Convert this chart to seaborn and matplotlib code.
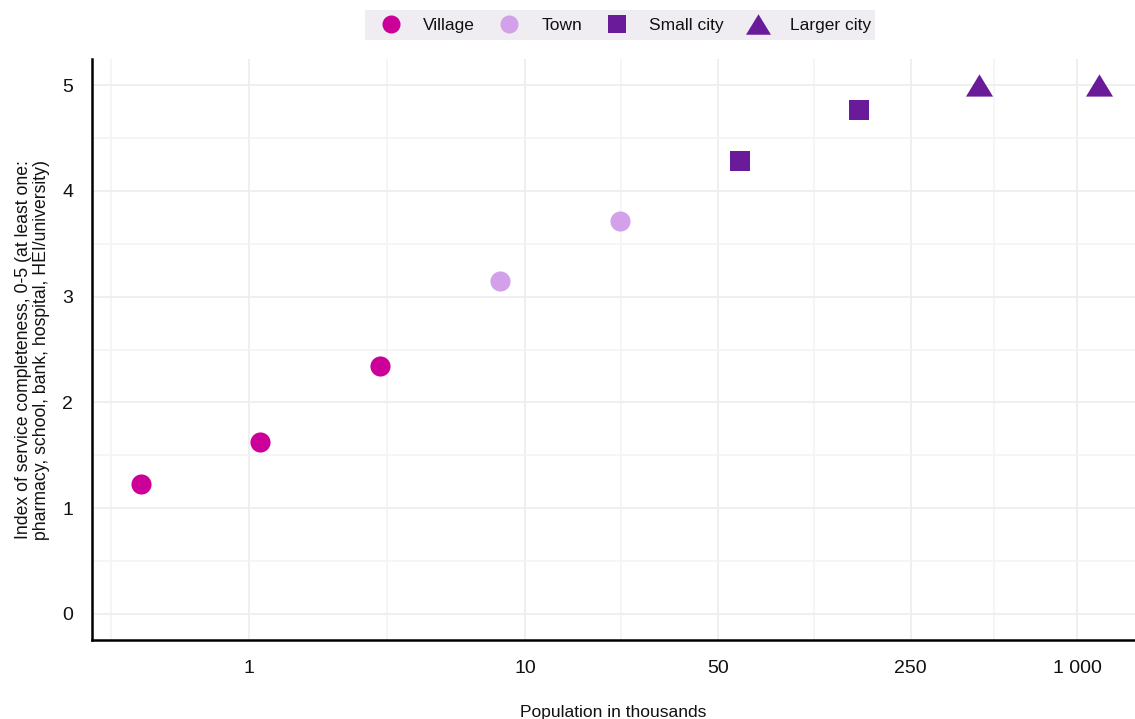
import numpy as np
import pandas as pd
import matplotlib
matplotlib.use("Agg")
import matplotlib.pyplot as plt
from matplotlib.ticker import FixedLocator, FixedFormatter, NullFormatter
from matplotlib.lines import Line2D
from matplotlib.patches import Rectangle
import seaborn as sns

# Settlement types with their population (thousands) and service index
settlement_type = ["Village", "Village", "Village", "Town", "Town",
                   "Small city", "Small city", "Larger city", "Larger city"]
population_k = [0.406, 1.096, 2.98, 8.1, 22.1, 60.1, 162.0, 441.0, 1202.0]
service_index = [1.23, 1.63, 2.34, 3.15, 3.71, 4.28, 4.76, 5.0, 5.0]

categories = ["Village", "Town", "Small city", "Larger city"]
colors = ["#CC0099", "#D3A0EA", "#6A1B9A", "#6A1B9A"]

x_ticks = [1, 10, 50, 250, 1000]
x_tick_labels = ["1", "10", "50", "250", "1 000"]
x_minor = [0.316, 3.162, 22.36, 111.8, 500.0]

df = pd.DataFrame({"type": settlement_type, "pop": population_k, "idx": service_index})

sns.set_theme(style="white")
plt.rcParams["font.family"] = ["Liberation Sans", "DejaVu Sans"]

tri = [(-1.0, -0.82), (1.0, -0.82), (0.0, 0.82)]
markers = {"Village": "o", "Town": "o", "Small city": "s", "Larger city": tri}
sizes = {"Village": 210, "Town": 210, "Small city": 210, "Larger city": 380}

W, H = 1135, 719
fig = plt.figure(figsize=(W / 100, H / 100), dpi=100)
ax = fig.add_axes([92 / W, 1 - 640 / H, 1 - 92 / W, (640 - 59) / H])

palette = dict(zip(categories, colors))
for cat in categories:
    sub = df[df["type"] == cat]
    sns.scatterplot(data=sub, x="pop", y="idx", ax=ax, color=palette[cat],
                    marker=markers[cat], s=sizes[cat], linewidth=0, zorder=3,
                    legend=False)

ax.set_xscale("log")
ax.set_xlim(0.270, 1623)
ax.set_ylim(-0.246, 5.246)

ax.xaxis.set_major_locator(FixedLocator(x_ticks))
ax.xaxis.set_major_formatter(FixedFormatter(x_tick_labels))
ax.xaxis.set_minor_locator(FixedLocator(x_minor))
ax.xaxis.set_minor_formatter(NullFormatter())
ax.yaxis.set_major_locator(FixedLocator([0, 1, 2, 3, 4, 5]))
ax.yaxis.set_minor_locator(FixedLocator([0.5, 1.5, 2.5, 3.5, 4.5]))

ax.grid(which="major", color="#EEEEEE", linewidth=1.3, zorder=0)
ax.grid(which="minor", color="#F3F3F3", linewidth=1.1, zorder=0)
ax.set_axisbelow(True)

for side in ["top", "right"]:
    ax.spines[side].set_visible(False)
for side in ["left", "bottom"]:
    ax.spines[side].set_color("black")
    ax.spines[side].set_linewidth(1.8)

ax.tick_params(axis="both", which="major", direction="in", length=5, width=1.2,
               color="black", labelsize=14, labelcolor="#111111")
ax.tick_params(axis="both", which="minor", length=0)
ax.tick_params(axis="x", pad=14.5)
ax.tick_params(axis="y", pad=13.5)

ax.set_xlabel("Population in thousands", fontsize=12.5, color="#111111", labelpad=20)
ax.set_ylabel("Index of service completeness, 0-5 (at least one:\n"
              "pharmacy, school, bank, hospital, HEI/university)",
              fontsize=12.7, color="#111111", labelpad=9, linespacing=1.05)

# Legend strip across the top
fig.patches.append(Rectangle((365 / W, 1 - 40 / H), 510 / W, 30 / H,
                             transform=fig.transFigure, facecolor="#EFEDF1",
                             edgecolor="none", zorder=0))
handles = []
for cat, col in zip(categories, colors):
    ms = 13 if cat != "Larger city" else 18
    handles.append(Line2D([0], [0], linestyle="none", marker=markers[cat],
                          markersize=ms, markerfacecolor=col, markeredgewidth=0))
leg = fig.legend(handles, categories, loc="center", ncol=4,
                 bbox_to_anchor=(626 / W, 1 - 25 / H), frameon=False,
                 fontsize=12.5, handletextpad=1.26, columnspacing=1.44,
                 borderpad=0, handlelength=1.15)
for t in leg.get_texts():
    t.set_color("#111111")

fig.savefig("out.png", dpi=100)
